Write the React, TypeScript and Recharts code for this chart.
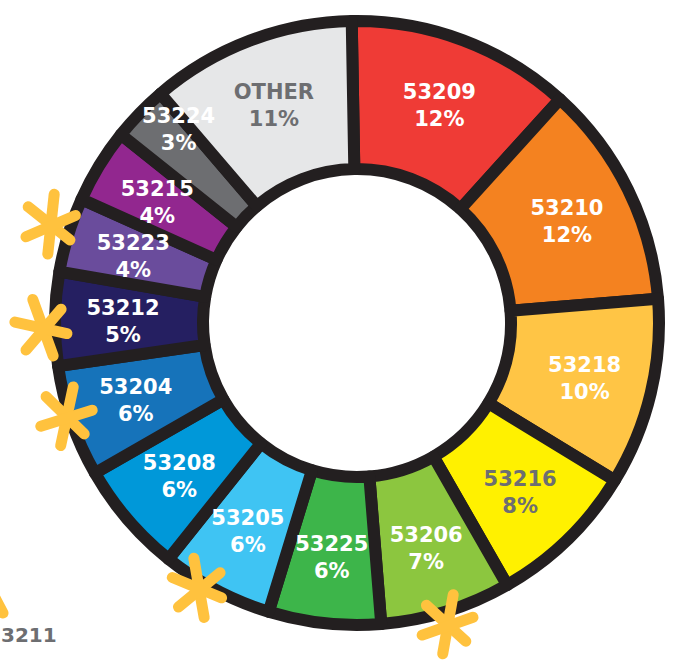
import { Pie, PieChart, Cell } from "recharts";

const zips = [
  "53209", "53210", "53218", "53216", "53206", "53225", "53205",
  "53208", "53204", "53212", "53223", "53215", "53224", "OTHER",
];
const shares = [12, 12, 10, 8, 7, 6, 6, 6, 6, 5, 4, 4, 3, 11];
const fills = [
  "#EF3B36", "#F48220", "#FFC545", "#FFF100", "#8CC63F", "#3DB54A", "#3FC4F3",
  "#0098D9", "#1673BA", "#251F61", "#6A4C9C", "#92278F", "#6D6E71", "#E6E7E8",
];
const darkLabels = ["53216", "OTHER"];

const data = zips.map((zip, i) => ({ zip, share: shares[i] }));

const RAD = Math.PI / 180;
const ink = "#231F20";
const star = "#FFC23E";
const labelFont = "'DejaVu Sans', sans-serif";

// hand-drawn asterisks around the ring: [x, y, rotation]
const stars = [
  [50, 224, 8],
  [42, 328, -18],
  [66, 416, 14],
  [198, 588, -8],
  [447, 624, 12],
];

function renderLabel(props: any) {
  const { cx, cy, midAngle, innerRadius, outerRadius, index } = props;
  const zip = zips[index];
  // the thin grey slice has its label pushed toward the rim
  const thin = zip === "53224";
  const r = (innerRadius + outerRadius) / 2 + (thin ? 36 : 6);
  const a = (midAngle - (thin ? 3.5 : 0)) * RAD;
  const x = cx + r * Math.cos(-a);
  const y = cy + r * Math.sin(-a);
  const color = darkLabels.includes(zip) ? "#6D6E71" : "#FFFFFF";
  return (
    <text
      x={x}
      y={y}
      textAnchor="middle"
      fill={color}
      fontFamily={labelFont}
      fontWeight={700}
      fontSize={21}
    >
      <tspan x={x} dy={-5}>{zip}</tspan>
      <tspan x={x} dy={27}>{`${shares[index]}%`}</tspan>
    </text>
  );
}

function Star({ x, y, rot }: { x: number; y: number; rot: number }) {
  return (
    <g transform={`translate(${x},${y}) rotate(${rot})`} stroke={star} strokeWidth={11} strokeLinecap="round">
      <line x1={0} y1={-30} x2={2} y2={30} />
      <line x1={-24} y1={-14} x2={22} y2={13} />
      <line x1={-22} y1={16} x2={24} y2={-12} />
    </g>
  );
}

export default function App() {
  return (
    <div style={{ position: "absolute", left: 0, top: 0, width: 691, height: 666, background: "#fff" }}>
      <PieChart width={691} height={666} margin={{ top: 0, right: 0, bottom: 0, left: 0 }}>
        <Pie
          data={data}
          dataKey="share"
          nameKey="zip"
          cx={357}
          cy={323}
          innerRadius={154}
          outerRadius={302}
          startAngle={91}
          endAngle={-269}
          stroke={ink}
          strokeWidth={12}
          strokeLinejoin="round"
          label={renderLabel}
          labelLine={false}
          isAnimationActive={false}
        >
          {data.map((d, i) => (
            <Cell key={d.zip} fill={fills[i]} />
          ))}
        </Pie>
      </PieChart>
      <svg width={691} height={666} style={{ position: "absolute", left: 0, top: 0, pointerEvents: "none" }}>
        {stars.map(([x, y, r], i) => (
          <Star key={i} x={x} y={y} rot={r} />
        ))}
        <line x1={-8} y1={592} x2={3} y2={613} stroke={star} strokeWidth={11} strokeLinecap="round" />
        <text x={1} y={642} fill="#6D6E71" fontFamily={labelFont} fontWeight={700} fontSize={20}>
          3211
        </text>
      </svg>
    </div>
  );
}
